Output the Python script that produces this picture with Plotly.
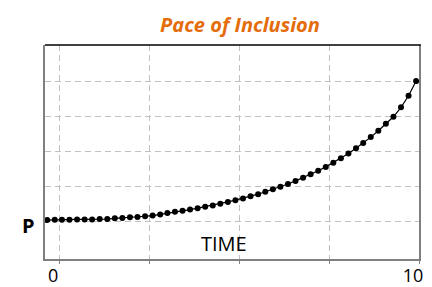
import plotly.graph_objects as go

# Data
time = [-0.33, -0.12, 0.08, 0.29, 0.50, 0.71, 0.92, 1.13, 1.34, 1.55,
        1.76, 1.97, 2.18, 2.39, 2.60, 2.81, 3.01, 3.22, 3.43, 3.64,
        3.85, 4.06, 4.27, 4.48, 4.69, 4.90, 5.11, 5.32, 5.53, 5.73,
        5.94, 6.15, 6.36, 6.57, 6.78, 6.99, 7.20, 7.41, 7.62, 7.83,
        8.04, 8.25, 8.45, 8.66, 8.87, 9.08, 9.29, 9.50, 9.71, 9.92]
pace = [0.04, 0.05, 0.05, 0.05, 0.06, 0.06, 0.06, 0.07, 0.07, 0.09,
        0.10, 0.12, 0.13, 0.15, 0.17, 0.20, 0.24, 0.28, 0.31, 0.34,
        0.38, 0.42, 0.46, 0.51, 0.56, 0.61, 0.66, 0.72, 0.78, 0.85,
        0.92, 0.99, 1.07, 1.16, 1.25, 1.35, 1.45, 1.56, 1.68, 1.81,
        1.94, 2.09, 2.24, 2.41, 2.59, 2.79, 2.99, 3.26, 3.59, 4.01]
x_ticks = [0, 2.5, 5, 7.5, 10]
x_ticklabels = ["0", "", "", "", "10"]
y_ticks = [0, 1, 2, 3, 4]
title_text = "Pace of Inclusion"
x_label = "TIME"
y_label = "P"

FONT = "Open Sans"
GRID = "#c0c0c0"
AXIS = "#808080"

fig = go.Figure()
fig.add_trace(go.Scatter(
    x=time, y=pace, mode="lines+markers",
    line=dict(color="black", width=1.2),
    marker=dict(color="black", size=6),
    showlegend=False, hoverinfo="skip",
))

fig.update_layout(
    width=432, height=287,
    margin=dict(l=45, r=13, t=45, b=28),
    paper_bgcolor="white", plot_bgcolor="white",
    font=dict(family=FONT, size=20, color="black"),
    title=dict(text=f"<b><i>{title_text}</i></b>", font=dict(family=FONT, size=20, color="#E46C0A"),
               xref="container", x=240/432, xanchor="center",
               yref="container", y=1-25/287, yanchor="middle"),
    xaxis=dict(range=[-0.39, 10.0], tickvals=x_ticks, ticktext=x_ticklabels,
               automargin=False,
               showgrid=True, gridcolor=GRID, griddash="6px,4px", gridwidth=1,
               showline=True, linecolor=AXIS, linewidth=1.5,
               ticks="outside", ticklen=3, tickcolor=AXIS, tickwidth=1,
               ticklabelshift=-6, ticklabelstandoff=-3, zeroline=False,
               tickfont=dict(family=FONT, size=18, color="black")),
    yaxis=dict(range=[-1.07, 5.04], tickvals=y_ticks, showticklabels=False,
               automargin=False,
               showgrid=True, gridcolor=GRID, griddash="6px,4px", gridwidth=1,
               showline=True, linecolor=AXIS, linewidth=2, mirror=True,
               ticks="", zeroline=False),
    shapes=[dict(type="line", xref="paper", yref="paper", x0=0, x1=1.005, y0=1, y1=1,
                 line=dict(color="black", width=1.5))],
    annotations=[
        dict(text=x_label, x=4.57, y=-0.63, xref="x", yref="y", showarrow=False,
             font=dict(family=FONT, size=20, color="black"), xanchor="center", yanchor="middle"),
        dict(text=f"<b>{y_label}</b>", x=0, y=0, xref="paper", yref="y", showarrow=False,
             xanchor="right", yanchor="middle", xshift=-8, yshift=-4,
             font=dict(family=FONT, size=20, color="black")),
    ],
)

fig.write_html("out.html", config={"displayModeBar": False},
               post_script="document.body.style.margin='0';document.body.style.padding='0';")
